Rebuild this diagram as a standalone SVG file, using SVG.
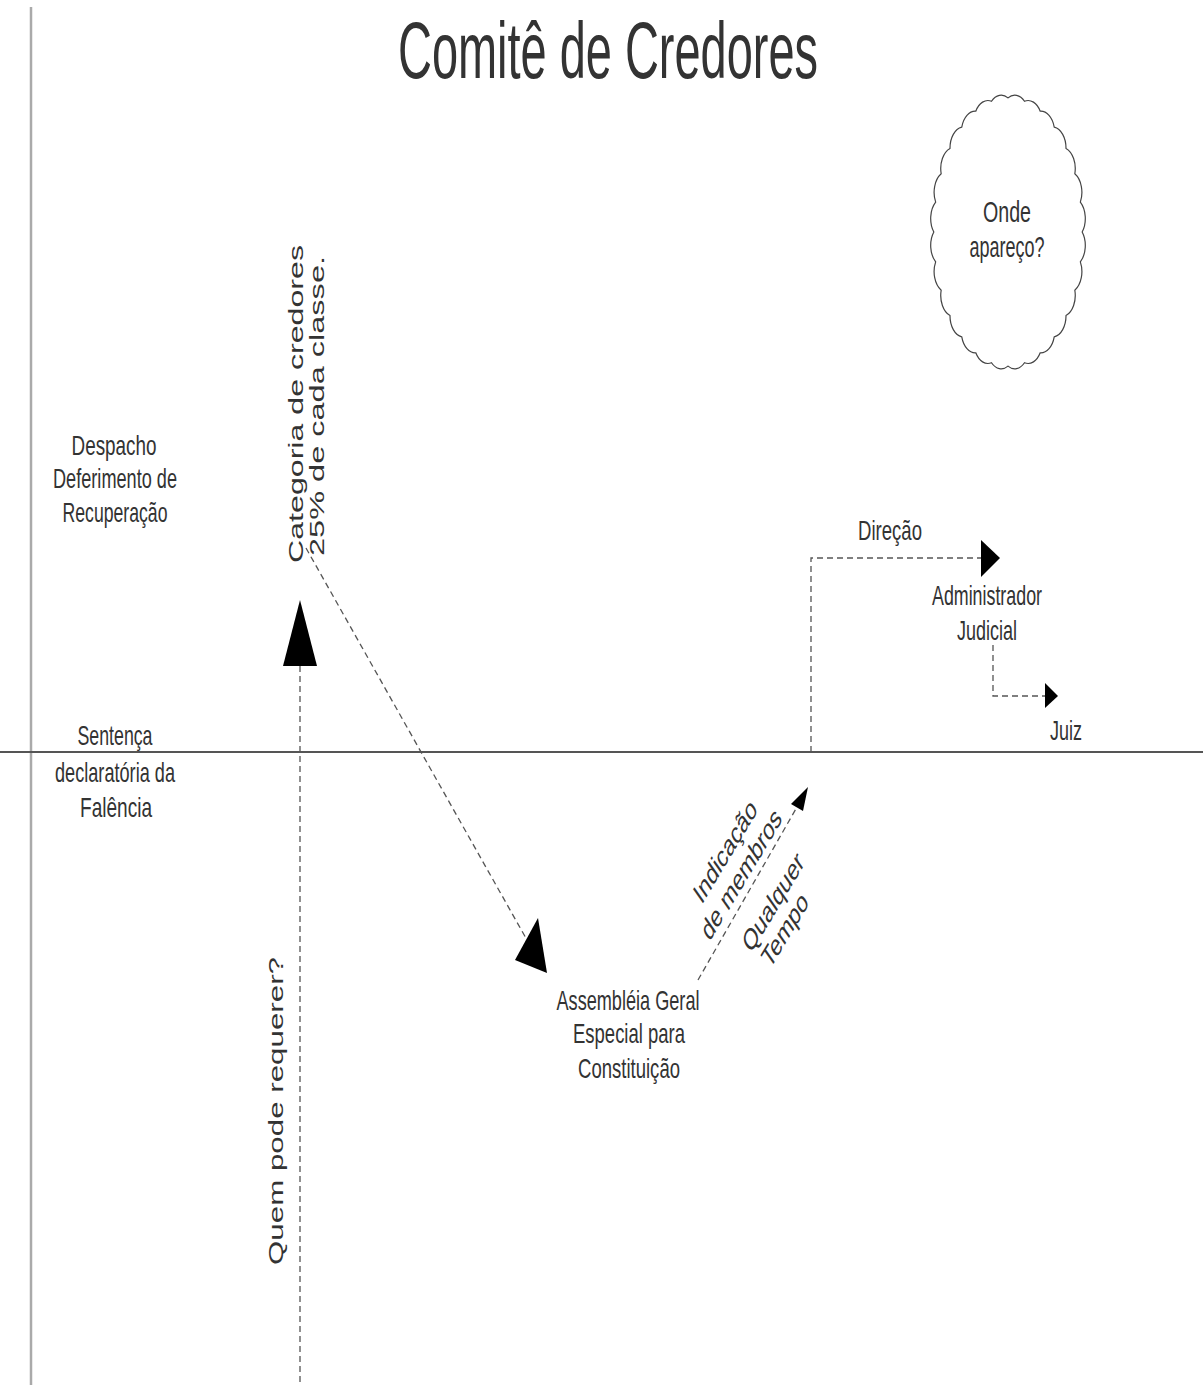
<svg xmlns="http://www.w3.org/2000/svg" width="1203" height="1385" viewBox="0 0 1203 1385">
<style>
  text { font-family: "Liberation Sans", Arial, sans-serif; fill: #333; }
  .t { font-size: 28px; text-anchor: middle; }
  .v { font-size: 21px; }
  .d { font-size: 30px; text-anchor: middle; }
  .dash { fill: none; stroke: #555; stroke-width: 1.3; stroke-dasharray: 6 4; }
  .head { fill: #000; }
</style>
<rect width="1203" height="1385" fill="#fff"/>
<g id="axes">
  <line x1="31" y1="7" x2="31" y2="1385" stroke="#aaa" stroke-width="2.5"/>
  <line x1="0" y1="752" x2="1203" y2="752" stroke="#555" stroke-width="2"/>
</g>
<g id="title">
  <text x="608" y="78" style="font-size:80px;text-anchor:middle" textLength="420" lengthAdjust="spacingAndGlyphs">Comitê de Credores</text>
</g>
<g id="connectors">
  <line class="dash" x1="300" y1="666" x2="300" y2="1385"/>
  <polygon class="head" points="300,600 317,666 283,666"/>
  <line class="dash" x1="306" y1="548" x2="527" y2="940"/>
  <polygon class="head" points="547,973 538,918 515,960"/>
  <line class="dash" x1="698" y1="980" x2="797" y2="807"/>
  <polygon class="head" points="808,787 803,811 791,804"/>
  <polyline class="dash" points="811,752 811,558 981,558"/>
  <polygon class="head" points="1000,558 981,540 981,577"/>
  <polyline class="dash" points="993,645 993,696 1045,696"/>
  <polygon class="head" points="1058,696 1045,683 1045,708"/>
</g>
<g id="cloud">
  <path transform="translate(1008,232) scale(0.634,0.972)" vector-effect="non-scaling-stroke" d="M117,0 A22,22 0 0 1 114.1,30.7 A22,22 0 0 1 105.4,59.9 A22,22 0 0 1 91.5,86 A22,22 0 0 1 72.9,107.9 A22,22 0 0 1 50.8,124.3 A22,22 0 0 1 26,134.5 A22,22 0 0 1 0,138 A22,22 0 0 1 -26,134.5 A22,22 0 0 1 -50.8,124.3 A22,22 0 0 1 -72.9,107.9 A22,22 0 0 1 -91.5,86 A22,22 0 0 1 -105.4,59.9 A22,22 0 0 1 -114.1,30.7 A22,22 0 0 1 -117,0 A22,22 0 0 1 -114.1,-30.7 A22,22 0 0 1 -105.4,-59.9 A22,22 0 0 1 -91.5,-86 A22,22 0 0 1 -72.9,-107.9 A22,22 0 0 1 -50.8,-124.3 A22,22 0 0 1 -26,-134.5 A22,22 0 0 1 0,-138 A22,22 0 0 1 26,-134.5 A22,22 0 0 1 50.8,-124.3 A22,22 0 0 1 72.9,-107.9 A22,22 0 0 1 91.5,-86 A22,22 0 0 1 105.4,-59.9 A22,22 0 0 1 114.1,-30.7 A22,22 0 0 1 117,0 Z" fill="#fff" stroke="#444" stroke-width="1.2"/>
  <text class="t" x="1007" y="222" style="font-size:30px" textLength="48" lengthAdjust="spacingAndGlyphs">Onde</text>
  <text class="t" x="1007" y="257" style="font-size:30px" textLength="75" lengthAdjust="spacingAndGlyphs">apareço?</text>
</g>
<g id="despacho">
  <text class="t" x="114" y="455" textLength="85" lengthAdjust="spacingAndGlyphs">Despacho</text>
  <text class="t" x="115" y="488" textLength="124" lengthAdjust="spacingAndGlyphs">Deferimento de</text>
  <text class="t" x="115" y="522" textLength="105" lengthAdjust="spacingAndGlyphs">Recuperação</text>
</g>
<g id="sentenca">
  <text class="t" x="115" y="745" textLength="75" lengthAdjust="spacingAndGlyphs">Sentença</text>
  <text class="t" x="115" y="782" textLength="120" lengthAdjust="spacingAndGlyphs">declaratória da</text>
  <text class="t" x="116" y="817" textLength="72" lengthAdjust="spacingAndGlyphs">Falência</text>
</g>
<g id="categoria">
  <text class="v" transform="translate(303,563) rotate(-90)" textLength="318" lengthAdjust="spacingAndGlyphs">Categoria de credores</text>
  <text class="v" transform="translate(324,556) rotate(-90)" textLength="300" lengthAdjust="spacingAndGlyphs">25% de cada classe.</text>
</g>
<g id="quem">
  <text class="v" transform="translate(283,1265) rotate(-90)" textLength="308" lengthAdjust="spacingAndGlyphs">Quem pode requerer?</text>
</g>
<g id="assembleia">
  <text class="t" x="628" y="1010" textLength="143" lengthAdjust="spacingAndGlyphs">Assembléia Geral</text>
  <text class="t" x="629" y="1043" textLength="112" lengthAdjust="spacingAndGlyphs">Especial para</text>
  <text class="t" x="629" y="1078" textLength="102" lengthAdjust="spacingAndGlyphs">Constituição</text>
</g>
<g id="indicacao" transform="translate(730,858) scale(0.65,1) rotate(-47.3)">
  <text class="d" x="0" y="0">Indicação</text>
  <text class="d" x="0" y="34">de membros</text>
</g>
<g id="qualquer" transform="translate(778,909) scale(0.65,1) rotate(-47.3)">
  <text class="d" x="0" y="0">Qualquer</text>
  <text class="d" x="-8" y="32">Tempo</text>
</g>
<g id="direcao">
  <text class="t" x="890" y="540" textLength="64" lengthAdjust="spacingAndGlyphs">Direção</text>
</g>
<g id="administrador">
  <text class="t" x="987" y="605" textLength="110" lengthAdjust="spacingAndGlyphs">Administrador</text>
  <text class="t" x="987" y="640" textLength="60" lengthAdjust="spacingAndGlyphs">Judicial</text>
</g>
<g id="juiz">
  <text class="t" x="1066" y="740" textLength="32" lengthAdjust="spacingAndGlyphs">Juiz</text>
</g>
</svg>
